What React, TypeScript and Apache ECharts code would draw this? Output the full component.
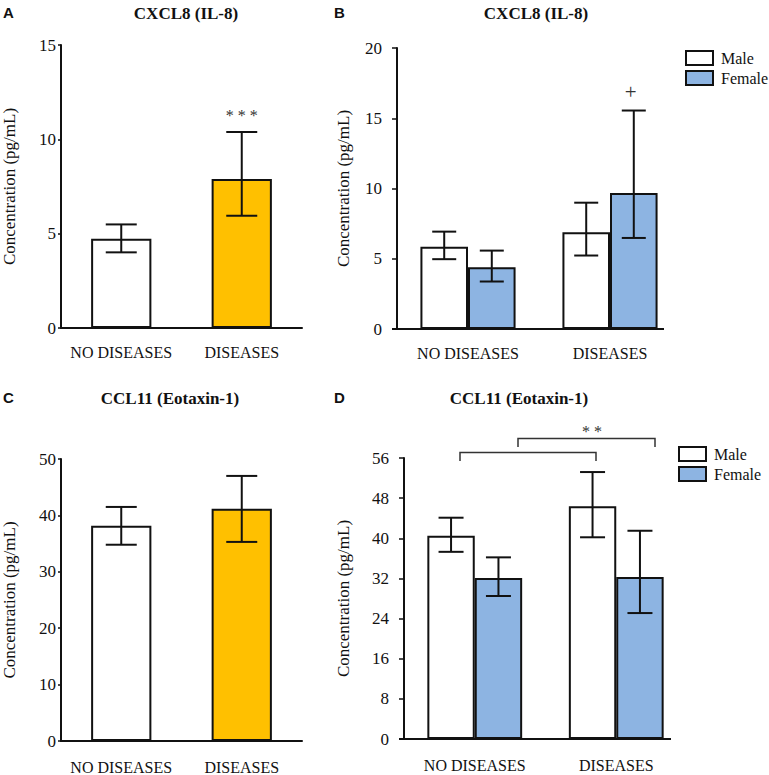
import React, { useEffect, useRef } from "react";
import * as echarts from "echarts";

const FONT = "Liberation Serif, Times New Roman, serif";
const SANS = "Liberation Sans, Arial, sans-serif";

const categories = ["NO DISEASES", "DISEASES"];
const sexes = ["Male", "Female"];

// Panel A: CXCL8 (IL-8)
const aMean = [4.73, 7.9];
const aLow = [4.01, 5.95];
const aHigh = [5.49, 10.39];
const aSig = ["", "* * *"];

// Panel B: CXCL8 by sex
const bMaleMean = [5.85, 6.89];
const bMaleLow = [4.97, 5.23];
const bMaleHigh = [6.93, 8.99];
const bFemaleMean = [4.4, 9.68];
const bFemaleLow = [3.38, 6.48];
const bFemaleHigh = [5.58, 15.55];
const bFemaleSig = ["", "+"];

// Panel C: CCL11 (Eotaxin-1)
const cMean = [38.15, 41.2];
const cLow = [34.8, 35.3];
const cHigh = [41.5, 47.0];

// Panel D: CCL11 by sex
const dMaleMean = [40.5, 46.4];
const dMaleLow = [37.3, 40.2];
const dMaleHigh = [44.1, 53.2];
const dFemaleMean = [32.1, 32.3];
const dFemaleLow = [28.5, 25.1];
const dFemaleHigh = [36.2, 41.5];

const yA = { max: 15, interval: 5 };
const yB = { max: 20, interval: 5 };
const yC = { max: 50, interval: 10 };
const yD = { max: 56, interval: 8 };

const WHITE = "#ffffff";
const GOLD = "#FFC000";
const BLUE = "#8DB4E2";

const grids = [
  { left: 60, top: 45, width: 242, height: 283 },
  { left: 397, top: 48, width: 284, height: 281 },
  { left: 60, top: 459, width: 242, height: 282 },
  { left: 404, top: 458, width: 283, height: 281 },
];

function errSeries(gi: number, low: number[], high: number[], cap: number, offsetFrac: number, sig?: string[]) {
  return {
    type: "custom",
    xAxisIndex: gi,
    yAxisIndex: gi,
    z: 5,
    silent: true,
    data: low.map((l, i) => [i, l, high[i]]),
    encode: { x: 0, y: [1, 2] },
    renderItem: (params: any, api: any) => {
      const x = api.value(0);
      const pLo = api.coord([x, api.value(1)]);
      const pHi = api.coord([x, api.value(2)]);
      const cw = api.size([1, 0])[0];
      const cx = pLo[0] + offsetFrac * cw;
      const st = { stroke: "#111", lineWidth: 2 };
      const children: any[] = [
        { type: "line", shape: { x1: cx, y1: pLo[1], x2: cx, y2: pHi[1] }, style: st },
        { type: "line", shape: { x1: cx - cap / 2, y1: pLo[1], x2: cx + cap / 2, y2: pLo[1] }, style: st },
        { type: "line", shape: { x1: cx - cap / 2, y1: pHi[1], x2: cx + cap / 2, y2: pHi[1] }, style: st },
      ];
      const s = sig ? sig[params.dataIndex] : "";
      if (s) {
        const isPlus = s === "+";
        children.push({
          type: "text",
          x: cx - (isPlus ? 3 : 0),
          y: pHi[1] - (isPlus ? 19 : 16),
          style: {
            text: s,
            font: `${isPlus ? 21 : 16}px ${FONT}`,
            fill: "#333",
            textAlign: "center",
            textVerticalAlign: "middle",
          },
        });
      }
      return { type: "group", children };
    },
  };
}

export default function App() {
  const ref = useRef<HTMLDivElement>(null);
  useEffect(() => {
    if (!ref.current) return;
    const chart = echarts.init(ref.current, null, { renderer: "svg" });

    const xAxes = grids.map((g, gi) => ({
      type: "category",
      gridIndex: gi,
      data: categories,
      axisTick: { show: false },
      axisLine: { show: gi === 0 || gi === 2, lineStyle: { color: "#111", width: 2 } },
      axisLabel: { color: "#111", fontFamily: FONT, fontSize: 16, margin: gi < 2 ? 16 : 18, interval: 0 },
    }));

    const yCfgs = [yA, yB, yC, yD];
    const nameGaps = [43, 45, 43, 52];
    const yAxes = yCfgs.map((c, gi) => ({
      type: "value",
      gridIndex: gi,
      min: 0,
      max: c.max,
      interval: c.interval,
      name: "Concentration (pg/mL)",
      nameLocation: "middle",
      nameGap: nameGaps[gi],
      nameTextStyle: { color: "#111", fontFamily: FONT, fontSize: 17 },
      splitLine: { show: false },
      axisLine: { show: true, lineStyle: { color: "#111", width: 2 } },
      axisTick: { show: true, length: gi === 0 || gi === 2 ? 3 : 5, lineStyle: { color: "#111", width: 1.5 } },
      axisLabel: { color: "#111", fontFamily: FONT, fontSize: 17, margin: gi === 0 || gi === 2 ? 5 : 15 },
    }));

    const barStyle = { borderColor: "#111", borderWidth: 2 };
    const singleBars = (gi: number, mean: number[]) => ({
      type: "bar",
      name: "panel" + gi,
      xAxisIndex: gi,
      yAxisIndex: gi,
      barWidth: "50%",
      data: mean.map((v, i) => ({ value: v, itemStyle: { color: i === 0 ? WHITE : GOLD } })),
      itemStyle: barStyle,
    });
    const sexBars = (gi: number, name: string, mean: number[], color: string) => ({
      type: "bar",
      name,
      xAxisIndex: gi,
      yAxisIndex: gi,
      barWidth: "33.5%",
      barGap: "0%",
      data: mean,
      itemStyle: { ...barStyle, color },
    });

    const F = 0.335 / 2;
    const series: any[] = [
      singleBars(0, aMean),
      sexBars(1, sexes[0], bMaleMean, WHITE),
      sexBars(1, sexes[1], bFemaleMean, BLUE),
      singleBars(2, cMean),
      sexBars(3, sexes[0], dMaleMean, WHITE),
      sexBars(3, sexes[1], dFemaleMean, BLUE),
      errSeries(0, aLow, aHigh, 31, 0, aSig),
      errSeries(1, bMaleLow, bMaleHigh, 24, -F),
      errSeries(1, bFemaleLow, bFemaleHigh, 24, F, bFemaleSig),
      errSeries(2, cLow, cHigh, 31, 0),
      errSeries(3, dMaleLow, dMaleHigh, 25, -F),
      errSeries(3, dFemaleLow, dFemaleHigh, 25, F),
    ];

    const legendBase = {
      data: sexes,
      orient: "vertical",
      padding: 0,
      itemWidth: 27,
      itemHeight: 14,
      itemGap: 4,
      icon: "rect",
      itemStyle: { borderColor: "#111", borderWidth: 2 },
      textStyle: { color: "#111", fontFamily: FONT, fontSize: 16, padding: [2, 0, 0, 3] },
      selectedMode: false,
    };

    const title = (text: string, x: number, y: number) => ({
      type: "text",
      x,
      y,
      style: { text, font: `bold 17px ${FONT}`, fill: "#111", textAlign: "center", textVerticalAlign: "middle" },
    });
    const letter = (text: string, x: number, y: number) => ({
      type: "text",
      x,
      y,
      style: { text, font: `bold 15px ${SANS}`, fill: "#111", textAlign: "left", textVerticalAlign: "middle" },
    });
    const bStyle = { stroke: "#333", lineWidth: 1.5, fill: "none" };

    const gB = grids[1];
    const gD = grids[3];
    const graphic: any[] = [
      letter("A", 3, 12),
      letter("B", 334, 12),
      letter("C", 3, 397),
      letter("D", 334, 397),
      title("CXCL8 (IL-8)", 186, 13),
      title("CXCL8 (IL-8)", 536, 13),
      title("CCL11 (Eotaxin-1)", 170, 398),
      title("CCL11 (Eotaxin-1)", 519, 398),
      {
        type: "line",
        shape: { x1: gB.left - 5, y1: gB.top + gB.height, x2: 664, y2: gB.top + gB.height },
        style: { stroke: "#111", lineWidth: 2 },
      },
      {
        type: "line",
        shape: { x1: gD.left - 5, y1: gD.top + gD.height, x2: 671, y2: gD.top + gD.height },
        style: { stroke: "#111", lineWidth: 2 },
      },
      { type: "polyline", shape: { points: [[460, 461], [460, 452.5], [596, 452.5], [596, 461]] }, style: bStyle },
      { type: "polyline", shape: { points: [[518, 447], [518, 438.5], [655, 438.5], [655, 447]] }, style: bStyle },
      {
        type: "text",
        x: 592,
        y: 431,
        style: { text: "* *", font: `16px ${FONT}`, fill: "#333", textAlign: "center", textVerticalAlign: "middle" },
      },
    ];

    chart.setOption({
      animation: false,
      backgroundColor: "#ffffff",
      grid: grids.map((g) => ({ ...g, containLabel: false })),
      xAxis: xAxes,
      yAxis: yAxes,
      legend: [
        { ...legendBase, left: 685, top: 50 },
        { ...legendBase, left: 678, top: 446 },
      ],
      series,
      graphic,
    });
    return () => chart.dispose();
  }, []);
  return (
    <div
      ref={ref}
      style={{ position: "fixed", left: 0, top: 0, width: 769, height: 775, background: "#fff" }}
    />
  );
}
